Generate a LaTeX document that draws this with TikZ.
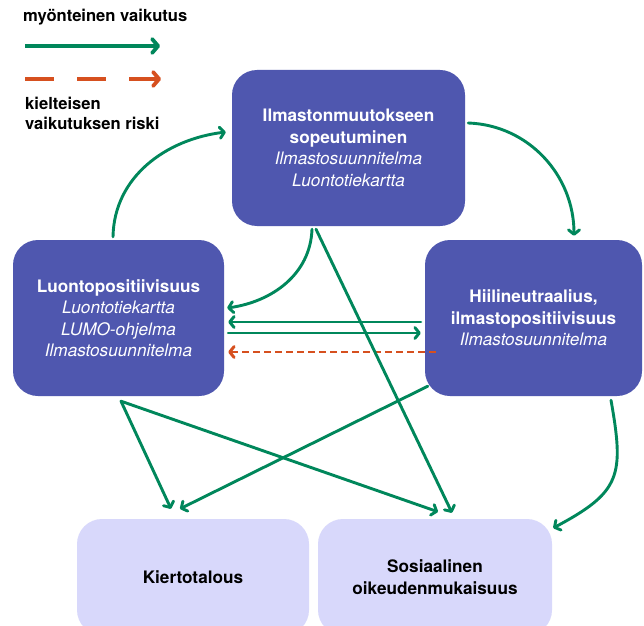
\documentclass[tikz,border=0pt]{standalone}
\usepackage{fontspec}
\setmainfont{TeX Gyre Heros}
\usetikzlibrary{arrows.meta}
\definecolor{grn}{HTML}{00875B}
\definecolor{org}{HTML}{D6501F}
\definecolor{dbox}{HTML}{4F57AF}
\definecolor{lbox}{HTML}{D8D8FB}
\tikzset{
  darkbox/.style={fill=dbox, rounded corners=25pt, minimum height=156pt, text=white,
    align=center, font=\fontsize{17.2}{21.5}\selectfont, inner sep=0pt},
  lightbox/.style={fill=lbox, rounded corners=25pt, minimum height=116pt, text=black,
    align=center, font=\fontsize{17.2}{21.5}\selectfont\bfseries, inner sep=0pt},
  posarrow/.style={draw=grn, line width=2.9pt, line cap=round,
    -{Straight Barb[length=4.5pt,width=11pt,round]}},
  negarrow/.style={draw=org, line width=2.9pt, dash pattern=on 7pt off 4pt,
    -{Straight Barb[length=4.5pt,width=11pt,round]}},
  legpos/.style={draw=grn, line width=3.8pt,
    -{Straight Barb[length=6pt,width=14pt,round]}},
  legneg/.style={draw=org, line width=3.8pt, dash pattern=on 29pt off 23pt,
    -{Straight Barb[length=6pt,width=14pt,round]}},
  legtext/.style={font=\fontsize{16.6}{20}\selectfont\bfseries, align=left, inner sep=0pt, anchor=west}
}
\begin{document}
\begin{tikzpicture}[x=1pt,y=1pt]
\useasboundingbox (0,0) rectangle (644,625);
\clip (0,0) rectangle (644,625);
\fill[white] (0,0) rectangle (644,625);

% legend
\node[legtext] (leg1) at (23,608) {myönteinen vaikutus};
\coordinate (l1a) at (25,579);
\coordinate (l1b) at (160,579);
\draw[legpos] (l1a) -- (l1b);
\coordinate (l2a) at (25,546);
\coordinate (l2b) at (161,546);
\draw[legneg] (l2a) -- (l2b);
\node[legtext] (leg2) at (25,512) {kielteisen\\vaikutuksen riski};

% boxes
\node[darkbox, minimum width=233pt] (T) at (348.5,477)
  {\textbf{Ilmastonmuutokseen}\\\textbf{sopeutuminen}\\\textit{Ilmastosuunnitelma}\\\textit{Luontotiekartta}};
\node[darkbox, minimum width=211pt] (L) at (118.5,307)
  {\textbf{Luontopositiivisuus}\\\textit{Luontotiekartta}\\\textit{LUMO-ohjelma}\\\textit{Ilmastosuunnitelma}};
\node[darkbox, minimum width=217pt] (R) at (533.5,307)
  {\textbf{Hiilineutraalius,}\\\textbf{ilmastopositiivisuus}\\\textit{Ilmastosuunnitelma}};
\node[lightbox, minimum width=232pt] (K) at (193,48) {Kiertotalous};
\node[lightbox, minimum width=234pt] (S) at (435,48) {Sosiaalinen\\oikeudenmukaisuus};

% connectors
\draw[posarrow] ([xshift=-5.5pt,yshift=3pt]L.north) to[out=89,in=187] ([xshift=-6pt,yshift=16pt]T.west);
\draw[posarrow] ([xshift=3pt,yshift=25pt]T.east) to[out=-2,in=90] ([xshift=40.5pt,yshift=4pt]R.north);
\draw[posarrow] ([xshift=-36.5pt,yshift=-3pt]T.south) to[out=-92,in=8] ([xshift=3pt,yshift=10pt]L.east);
\draw[posarrow] ([xshift=-4pt,yshift=-4pt]R.west) -- ([xshift=4pt,yshift=-4pt]L.east);
\draw[posarrow] ([xshift=4pt,yshift=-15pt]L.east) -- ([xshift=-4pt,yshift=-15pt]R.west);
\draw[negarrow] ([xshift=11pt,yshift=-34pt]R.west) -- ([xshift=4pt,yshift=-34pt]L.east);
\draw[posarrow] ([xshift=-32.5pt,yshift=-3pt]T.south) -- ([xshift=17pt,yshift=6pt]S.north);
\draw[posarrow] ([xshift=2.5pt,yshift=-5pt]L.south) -- ([xshift=-22pt,yshift=10pt]K.north);
\draw[posarrow] ([xshift=2.5pt,yshift=-5pt]L.south) -- ([xshift=3pt,yshift=7pt]S.north);
\draw[posarrow] ([xshift=3pt,yshift=10pt]R.south west) -- ([xshift=-13pt,yshift=10pt]K.north);
\draw[posarrow] ([xshift=77.5pt,yshift=-4pt]R.south) to[out=-80,in=28,looseness=1.4] ([xshift=1pt,yshift=49pt]S.east);
\end{tikzpicture}
\end{document}
